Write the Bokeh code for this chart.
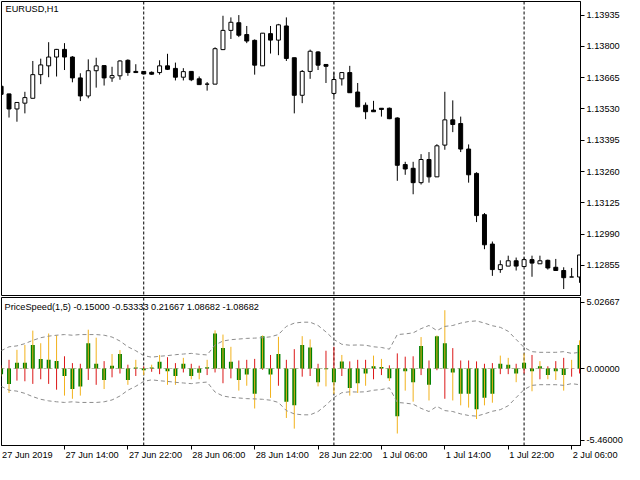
from bokeh.plotting import figure
from bokeh.layouts import column
from bokeh.models import Range1d, FixedTicker, Span, Label, ColumnDataSource
from bokeh.core.properties import value
from bokeh.embed import file_html
from bokeh.resources import INLINE

symbol_title = "EURUSD,H1"
indicator_title = "PriceSpeed(1,5) -0.15000 -0.53333 0.21667 1.08682 -1.08682"

open_ = [1.13628, 1.13595, 1.13530, 1.13555, 1.13576, 1.13678, 1.13716, 1.13754, 1.13787, 1.13754,
         1.13664, 1.13586, 1.13695, 1.13717, 1.13664, 1.13673, 1.13740, 1.13692, 1.13692, 1.13688,
         1.13687, 1.13716, 1.13705, 1.13667, 1.13692, 1.13660, 1.13637, 1.13637, 1.13786, 1.13869,
         1.13902, 1.13851, 1.13826, 1.13716, 1.13855, 1.13827, 1.13888, 1.13751, 1.13589, 1.13692,
         1.13776, 1.13722, 1.13597, 1.13660, 1.13687, 1.13603, 1.13546, 1.13525, 1.13533, 1.13533,
         1.13491, 1.13290, 1.13274, 1.13212, 1.13312, 1.13237, 1.13374, 1.13483, 1.13467, 1.13357,
         1.13252, 1.13074, 1.12947, 1.12837, 1.12852, 1.12875, 1.12850, 1.12880, 1.12862, 1.12877,
         1.12847, 1.12833, 1.12805, 1.12805]
high = [1.13634, 1.13596, 1.13558, 1.13604, 1.13737, 1.13747, 1.13818, 1.13789, 1.13814, 1.13758,
        1.13684, 1.13744, 1.13751, 1.13717, 1.13712, 1.13740, 1.13744, 1.13723, 1.13692, 1.13692,
        1.13740, 1.13768, 1.13730, 1.13706, 1.13692, 1.13670, 1.13646, 1.13796, 1.13932, 1.13925,
        1.13935, 1.13888, 1.13830, 1.13857, 1.13888, 1.13897, 1.13925, 1.13751, 1.13698, 1.13786,
        1.13779, 1.13722, 1.13688, 1.13687, 1.13716, 1.13642, 1.13558, 1.13565, 1.13533, 1.13536,
        1.13494, 1.13302, 1.13302, 1.13335, 1.13344, 1.13378, 1.13604, 1.13567, 1.13497, 1.13377,
        1.13257, 1.13081, 1.12958, 1.12877, 1.12897, 1.12889, 1.12889, 1.12897, 1.12897, 1.12880,
        1.12883, 1.12847, 1.12844, 1.12900]
low = [1.13588, 1.13493, 1.13475, 1.13511, 1.13576, 1.13637, 1.13667, 1.13670, 1.13698, 1.13645,
       1.13564, 1.13576, 1.13622, 1.13631, 1.13647, 1.13656, 1.13673, 1.13687, 1.13681, 1.13677,
       1.13678, 1.13698, 1.13653, 1.13653, 1.13650, 1.13635, 1.13609, 1.13637, 1.13784, 1.13832,
       1.13840, 1.13814, 1.13678, 1.13716, 1.13769, 1.13762, 1.13737, 1.13511, 1.13555, 1.13660,
       1.13698, 1.13642, 1.13583, 1.13631, 1.13600, 1.13539, 1.13486, 1.13518, 1.13497, 1.13486,
       1.13220, 1.13246, 1.13162, 1.13204, 1.13212, 1.13237, 1.13354, 1.13430, 1.13344, 1.13212,
       1.13042, 1.12925, 1.12810, 1.12823, 1.12852, 1.12833, 1.12850, 1.12806, 1.12862, 1.12837,
       1.12833, 1.12753, 1.12805, 1.12780]
close = [1.13593, 1.13530, 1.13558, 1.13579, 1.13678, 1.13720, 1.13754, 1.13787, 1.13754, 1.13664,
         1.13586, 1.13695, 1.13716, 1.13664, 1.13674, 1.13737, 1.13687, 1.13687, 1.13681, 1.13680,
         1.13716, 1.13701, 1.13667, 1.13691, 1.13656, 1.13635, 1.13637, 1.13790, 1.13869, 1.13904,
         1.13848, 1.13823, 1.13719, 1.13857, 1.13827, 1.13893, 1.13748, 1.13589, 1.13692, 1.13779,
         1.13719, 1.13714, 1.13657, 1.13687, 1.13600, 1.13539, 1.13518, 1.13518, 1.13528, 1.13488,
         1.13287, 1.13271, 1.13212, 1.13312, 1.13237, 1.13371, 1.13483, 1.13463, 1.13357, 1.13246,
         1.13070, 1.12944, 1.12837, 1.12858, 1.12875, 1.12852, 1.12880, 1.12865, 1.12875, 1.12844,
         1.12833, 1.12802, 1.12805, 1.12900]

speed_body = [-0.43, -1.17, 0.44, 0.44, 1.79, 0.73, 0.66, 0.58, -0.57, -1.56,
              -1.36, 1.92, 0.36, -0.87, 0.21, 1.10, -0.87, 0.07, -0.13, 0.07,
              0.51, -0.20, -0.57, 0.36, -0.57, -0.33, 0.09, 2.66, 1.55, 0.51,
              -0.87, -0.45, -1.91, 2.46, -0.45, 1.10, -2.52, -2.79, 1.79, 1.60,
              -1.04, -0.06, -1.04, 0.54, -1.49, -1.12, -0.38, 0.17, 0.12, -0.75,
              -3.63, -0.20, -1.04, 1.72, -1.24, 2.46, 1.92, -0.30, -1.91, -1.91,
              -3.10, -2.23, -1.91, 0.36, 0.29, -0.38, 0.44, -0.20, 0.17, -0.50,
              -0.20, -0.50, 0.00, 1.79]
speed_ext = [-0.60, -1.86, 1.42, 1.79, 2.88, 1.92, 2.66, 2.53, -2.06, -2.30,
             -2.06, 2.95, 2.34, -1.56, 1.10, 1.40, -1.24, 0.66, -0.50, 0.29,
             1.03, -1.24, -1.24, 0.81, -0.82, -0.82, 0.66, 2.90, 2.58, 1.65,
             -1.68, -1.31, -3.04, 2.51, -2.23, 2.41, -3.76, -4.57, 2.46, 2.21,
             -1.36, -1.36, -1.93, 1.03, -2.06, -1.86, -1.31, 0.98, 0.73, -0.95,
             -4.94, -1.68, -2.52, 2.39, -2.43, 2.51, 4.43, -2.43, -2.80, -2.97,
             -3.84, -2.80, -2.60, 0.98, 0.81, -1.04, 1.15, -1.73, 0.56, -0.82,
             -0.87, -1.68, 0.66, 2.14]
speed_opp = [0.25, 0.66, -0.92, -0.97, -1.17, -0.82, -1.17, -1.61, 0.93, 0.41,
             0.36, -0.87, -1.24, 0.56, -0.67, -0.38, 0.29, -0.57, 0.17, -0.25,
             -0.43, 0.86, 0.41, -0.30, 0.36, 0.21, -0.50, -0.30, -1.12, -0.75,
             0.61, 0.66, 0.73, -0.10, 1.03, -1.31, 0.66, 1.47, -0.62, -0.57,
             0.36, 1.35, 1.65, -0.57, 0.54, 0.66, 0.66, -0.82, -0.50, 0.24,
             1.15, 0.90, 0.93, -0.50, 0.61, -0.13, -2.30, 1.55, 0.61, 0.61,
             0.54, 0.36, 0.41, -0.43, -0.43, 0.36, -0.38, 1.03, -0.82, 0.17,
             0.56, 0.81, -0.62, -0.38]
speed_band = [1.35, 1.65, 1.72, 1.89, 2.14, 2.34, 2.46, 2.53, 2.58, 2.53,
              2.58, 2.58, 2.58, 2.53, 2.39, 2.09, 1.65, 1.35, 0.98, 0.86,
              0.93, 0.98, 1.05, 1.10, 1.15, 1.08, 1.03, 1.79, 2.09, 2.19,
              2.24, 2.29, 2.31, 2.34, 2.41, 2.58, 3.20, 3.45, 3.52, 3.52,
              3.27, 2.78, 2.21, 1.84, 1.77, 1.79, 1.77, 1.65, 1.60, 1.47,
              2.58, 2.63, 2.71, 3.03, 3.27, 2.88, 3.20, 3.27, 3.45, 3.57,
              3.62, 3.45, 3.25, 3.13, 2.83, 2.21, 1.60, 1.28, 1.23, 1.23,
              1.23, 1.28, 1.15, 1.23]

price_ticks = [1.13935, 1.13800, 1.13665, 1.13530, 1.13395, 1.13260, 1.13125, 1.12990, 1.12855]
price_tick_labels = ["1.13935", "1.13800", "1.13665", "1.13530", "1.13395",
                     "1.13260", "1.13125", "1.12990", "1.12855"]
speed_ticks = [5.02667, 0.0, -5.46]
speed_tick_labels = ["5.02667", "0.00000", "-5.46000"]
speed_levels = [0.0]
time_tick_bars = [0, 8, 16, 24, 32, 40, 48, 56, 64, 72]
time_tick_labels = ["27 Jun 2019", "27 Jun 14:00", "27 Jun 22:00", "28 Jun 06:00", "28 Jun 14:00",
                    "28 Jun 22:00", "1 Jul 06:00", "1 Jul 14:00", "1 Jul 22:00", "2 Jul 06:00"]
day_separator_bars = [18, 42, 66]

FONT = "Liberation Sans"
FS = "9.2px"

FRAME_W = 579
X0, X1 = 0.05, 73.12
PX_PER_BAR = FRAME_W / (X1 - X0)

bars = list(range(len(open_)))
candle_src = ColumnDataSource(dict(
    x=bars, high=high, low=low,
    top=[max(o, c) for o, c in zip(open_, close)],
    bottom=[min(o, c) for o, c in zip(open_, close)],
    fill=["white" if c > o else "black" for o, c in zip(open_, close)],
))
speed_src = ColumnDataSource(dict(
    x=bars,
    top=[max(0.0, v) for v in speed_body],
    bottom=[min(0.0, v) for v in speed_body],
    ext=speed_ext, opp=speed_opp,
    up=speed_band, dn=[-v for v in speed_band],
))

xr = Range1d(X0, X1)

def style_right_axis(ax, ticks, labels):
    ax.ticker = FixedTicker(ticks=ticks)
    ax.major_label_overrides = {t: s for t, s in zip(ticks, labels)}
    ax.axis_line_color = "black"
    ax.major_tick_line_color = "black"
    ax.major_tick_out = 4
    ax.major_tick_in = 0
    ax.minor_tick_line_color = None
    ax.major_label_standoff = 2
    ax.major_label_text_font = FONT
    ax.major_label_text_font_size = FS
    ax.major_label_text_color = "black"

# ---------- main price pane ----------
p1 = figure(frame_width=FRAME_W, frame_height=294, x_range=xr,
            y_range=Range1d(1.127252, 1.139936),
            x_axis_location=None, y_axis_location="right",
            toolbar_location=None, tools="", output_backend="svg",
            min_border_left=1, min_border_right=44, min_border_top=1, min_border_bottom=1)
p1.grid.visible = False
p1.outline_line_color = "black"
p1.outline_line_alpha = 1
style_right_axis(p1.yaxis[0], price_ticks, price_tick_labels)

for b in day_separator_bars:
    p1.add_layout(Span(location=b, dimension="height", line_color="black",
                       line_dash="3 2", line_width=1, level="underlay"))

p1.segment(x0="x", y0="high", x1="x", y1="low", line_color="black", line_width=1, source=candle_src)
p1.vbar(x="x", width=0.5, top="top", bottom="bottom", fill_color="fill",
        line_color="black", line_width=1, source=candle_src)

p1.add_layout(Label(x=xr.start, y=p1.y_range.end, x_offset=4, y_offset=-2,
                    text=symbol_title, text_baseline="top", text_align="left",
                    text_font=FONT, text_font_size=FS, text_color="black"))

# ---------- indicator pane ----------
p2 = figure(frame_width=FRAME_W, frame_height=148, x_range=xr,
            y_range=Range1d(-5.852, 5.397),
            x_axis_location="below", y_axis_location="right",
            toolbar_location=None, tools="", output_backend="svg",
            min_border_left=1, min_border_right=44, min_border_top=1, min_border_bottom=5)
p2.grid.visible = False
p2.outline_line_color = "black"
p2.outline_line_alpha = 1
style_right_axis(p2.yaxis[0], speed_ticks, speed_tick_labels)

xa = p2.xaxis[0]
xa.ticker = FixedTicker(ticks=time_tick_bars)
xa.major_label_overrides = {t: "" for t in time_tick_bars}
xa.axis_line_color = "black"
xa.major_tick_line_color = "black"
xa.major_tick_out = 4
xa.major_tick_in = 0
xa.minor_tick_line_color = None
xa.major_label_standoff = 0
xa.major_label_text_font_size = "0px"

for b in day_separator_bars:
    p2.add_layout(Span(location=b, dimension="height", line_color="black",
                       line_dash="3 2", line_width=1, level="underlay"))
for lv in speed_levels:
    p2.add_layout(Span(location=lv, dimension="width", line_color="#bcb8a4",
                       line_dash="3 3", line_width=1, level="underlay"))

p2.vbar(x="x", width=0.5, top="top", bottom="bottom", fill_color="#008000",
        line_color=None, source=speed_src)
p2.segment(x0="x", y0=0, x1="x", y1="ext", line_color="#f2b21c", line_width=1, source=speed_src)
p2.segment(x0="x", y0=0, x1="x", y1="opp", line_color="#dc1818", line_width=1, source=speed_src)
p2.line(x="x", y="up", line_color="#8c8c8c", line_dash="4 3", line_width=1, source=speed_src)
p2.line(x="x", y="dn", line_color="#8c8c8c", line_dash="4 3", line_width=1, source=speed_src)

p2.add_layout(Label(x=xr.start, y=p2.y_range.end, x_offset=3, y_offset=-4,
                    text=indicator_title, text_baseline="top", text_align="left",
                    text_font=FONT, text_font_size=FS, text_color="black"))

# ---------- time labels strip (same bar scale, wider so the last label fits) ----------
STRIP_W = 623
p3 = figure(frame_width=STRIP_W, frame_height=12,
            x_range=Range1d(X0, X0 + STRIP_W / PX_PER_BAR), y_range=Range1d(0, 1),
            x_axis_location=None, y_axis_location=None,
            toolbar_location=None, tools="", output_backend="svg",
            min_border_left=1, min_border_right=0, min_border_top=0, min_border_bottom=0)
p3.grid.visible = False
p3.outline_line_color = None
p3.text(x=time_tick_bars, y=1, text=time_tick_labels, x_offset=1, y_offset=-1,
        text_baseline="top", text_align="left",
        text_font=value(FONT), text_font_size=value(FS), text_color="black")

layout = column(p1, p2, p3, spacing=0)
open("out.html", "w").write(file_html(layout, INLINE))
